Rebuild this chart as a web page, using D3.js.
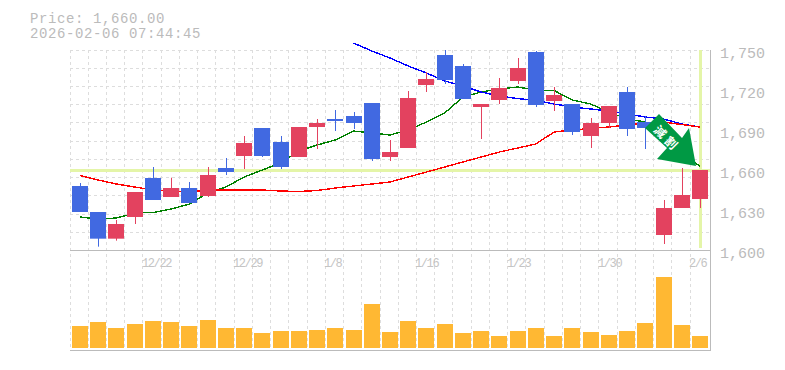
<!DOCTYPE html>
<html><head><meta charset="utf-8">
<style>html,body{margin:0;padding:0;background:#fff}svg{display:block}text{font-family:"Liberation Mono",monospace;fill:#bbb}</style>
<script src="https://cdnjs.cloudflare.com/ajax/libs/d3/7.8.5/d3.min.js"></script></head><body>
<div id="c"></div>
<script>
const open_ =[1648,1628.5,1608.5,1624.75,1654,1639.75,1646.5,1640.5,1661.5,1670.5,1691.5,1681,1669.75,1692.25,1698.25,1700.5,1710.25,1669.75,1676.5,1723.75,1746.25,1738,1707.25,1712.5,1726.75,1748.5,1711.75,1709.5,1685.5,1695.25,1718.5,1696,1611.25,1631.5,1638.25];
const close_=[1628.5,1608.5,1619.5,1643.5,1637.5,1646.5,1635.25,1656.25,1658.5,1680.25,1670.5,1662.25,1692.25,1695.25,1696.75,1695.25,1668.25,1673.5,1714,1728.25,1727.5,1713.25,1709.5,1721.5,1736.5,1708.75,1716.25,1688.5,1695.25,1708,1690.75,1691.5,1631.5,1641.25,1660];
const high_ =[1650.25,1628.5,1622.5,1643.5,1662.25,1654.2,1651,1662.25,1669,1685.5,1691.5,1685.5,1692.25,1698.25,1705,1703.5,1710.25,1682.5,1719.25,1733.5,1750,1739.5,1709.5,1729,1744,1749.25,1722.25,1709.5,1699,1708,1722.25,1700.5,1637.5,1661.5,1660];
const low_  =[1628.5,1602.5,1607,1619.5,1637.5,1639.75,1635.25,1639.75,1656.25,1660.75,1669.75,1660.75,1669.75,1675.75,1689.25,1690.75,1666.75,1666.75,1676.5,1718.5,1724.5,1713.25,1683.25,1709.5,1724.5,1707.25,1704.25,1686.25,1676.5,1691.5,1685.5,1675.75,1604.5,1631.5,1631.5];
const volume=[22,26,20,24,27,26,22,28,20,20,15,17,17,18,20,18,44,16,27,20,24,15,17,12,17,20,12,20,16,13,17,25,71,23,12];
const maShort=[1624.75,1623.25,1624,1627.75,1628.1,1630.75,1634.5,1642.75,1647.25,1654.75,1660,1665.25,1674.25,1678.75,1682.5,1689.25,1687.75,1686.25,1690,1696,1702.75,1714.75,1718.5,1720.75,1722.25,1720,1719.6,1712.5,1709.5,1703.5,1698.25,1696,1682.5,1671.25,1663];
const maMid=[null,null,null,null,null,null,null,null,null,null,null,null,null,null,null,1755.25,1749.25,1744,1738,1732.75,1726.75,1723,1718.5,1715.5,1713.6,1712.1,1709.5,1707.25,1705.75,1704.25,1702,1699.75,1698.25,1694.5,1692.25];
const maLong=[1655.9,1652.5,1649.5,1647.25,1645,1643.9,1643.5,1645,1645,1645,1645,1644.25,1643.9,1644.6,1646.5,1648,1649.5,1651,1654.75,1658.5,1662.25,1666,1669.75,1673.5,1676.5,1679.5,1688.5,1690,1691.1,1692.25,1693.75,1695.25,1696,1694.1,1692.25];
const dateLabels=[[4,"12/22"],[9,"12/29"],[14,"1/8"],[19,"1/16"],[24,"1/23"],[29,"1/30"],[34,"2/6"]];
const priceTicks=[1600,1630,1660,1690,1720,1750];
const gridRows=d3.range(0,12);
const lastPrice=1660;
const headerLines=["Price: 1,660.00","2026-02-06 07:44:45"];
const arrowChars=["減","割"];

const W=785,H=370,L=70,R=710;
const idx=d3.range(open_.length);
const x=d3.scaleBand().domain(idx).range([72,708]).paddingInner(0.1226).paddingOuter(0);
const xc=i=>x(i)+x.bandwidth()/2;
const y=d3.scaleLinear().domain([1600,1750]).range([250,50]);
const yv=d3.scaleLinear().domain([0,98]).range([348,250]);
const svg=d3.select("#c").append("svg").attr("width",W).attr("height",H);

// grid
const gridColor="#ddd";
const gx=d3.range(0,35).map(i=>Math.floor(x(i)-2)+0.5);
svg.append("g").selectAll("line").data(gx).join("line")
 .attr("x1",d=>d).attr("x2",d=>d).attr("y1",50).attr("y2",350)
 .attr("stroke",gridColor).attr("stroke-dasharray","3,3");
const gridY=d3.scaleLinear().domain([0,11]).range([50,250.6]);
svg.append("g").selectAll("line").data(gridRows).join("line")
 .attr("x1",L).attr("x2",R).attr("y1",d=>Math.floor(gridY(d))+0.5).attr("y2",d=>Math.floor(gridY(d))+0.5)
 .attr("stroke",gridColor).attr("stroke-dasharray","3,3");

// highlight
svg.append("line").attr("x1",L).attr("x2",R).attr("y1",y(lastPrice)+0.5).attr("y2",y(lastPrice)+0.5).attr("stroke","#e4f5a8").attr("stroke-width",3);
svg.append("line").attr("x1",xc(34)+0.5).attr("x2",xc(34)+0.5).attr("y1",50).attr("y2",248).attr("stroke","#e4f5a8").attr("stroke-width",3);

// axes frame
svg.append("path").attr("d",`M${L},250.5H${R}M${L},350.5H${R}M710.5,50V351`).attr("stroke","#bbb").attr("stroke-width",1).attr("fill","none");

// lines
const line=d3.line().defined(d=>d!=null).x((d,i)=>xc(i)).y(d=>y(d));
[[maShort,"#008000"],[maMid,"#0000ff"],[maLong,"#ff0000"]].forEach(([a,c])=>{
 svg.append("path").attr("d",line(a)).attr("fill","none").attr("stroke",c).attr("stroke-width",1.4).attr("shape-rendering","crispEdges");
});

// candles
const colUp="#e3425f",colDn="#4169e1";
const g=svg.append("g").selectAll("g").data(idx).join("g");
const col=i=>close_[i]>=open_[i]?colUp:colDn;
g.append("line").attr("x1",i=>Math.round(xc(i))+0.5).attr("x2",i=>Math.round(xc(i))+0.5)
 .attr("y1",i=>y(high_[i])).attr("y2",i=>y(low_[i])).attr("stroke",col).attr("stroke-width",1);
g.append("rect").attr("x",i=>Math.round(x(i))).attr("width",16)
 .attr("y",i=>y(Math.max(open_[i],close_[i])))
 .attr("height",i=>Math.max(1,Math.abs(y(open_[i])-y(close_[i])))).attr("fill",col);

// volume
svg.append("g").selectAll("rect").data(idx).join("rect")
 .attr("x",i=>Math.round(x(i))).attr("width",16)
 .attr("y",i=>yv(volume[i])).attr("height",i=>348-yv(volume[i])).attr("fill","#ffb833");

// y labels
svg.append("g").selectAll("text").data(priceTicks).join("text")
 .attr("x",720).attr("y",d=>y(d)+8).attr("font-size",15).text(d=>d3.format(",")(d));
// date labels
svg.append("g").selectAll("text").data(dateLabels).join("text")
 .attr("x",d=>Math.round(x(d[0]))-3).attr("y",267).attr("font-size",12).attr("letter-spacing",-1.4).style("fill","#c4c4c4").text(d=>d[1]);
// header
svg.append("g").selectAll("text").data(headerLines).join("text")
 .attr("x",30).attr("y",(d,i)=>22.5+i*15).attr("font-size",14).attr("letter-spacing",0.6).text(d=>d);

// arrow
const ag=svg.append("g");
ag.append("path").attr("d","M659,114 L682,138 L689,128 L696,166 L657,159 L667,148 L645,128 Z").attr("fill","#009944");
ag.selectAll("text").data(arrowChars).join("text")
 .attr("transform",(d,i)=>`translate(${661+i*11},${131+i*11}) rotate(45)`)
 .attr("text-anchor","middle").attr("dominant-baseline","central")
 .attr("font-size",12).attr("font-weight","bold").style("fill","#fff").style("font-family","'Noto Sans CJK JP'").text(d=>d);
</script></body></html>
